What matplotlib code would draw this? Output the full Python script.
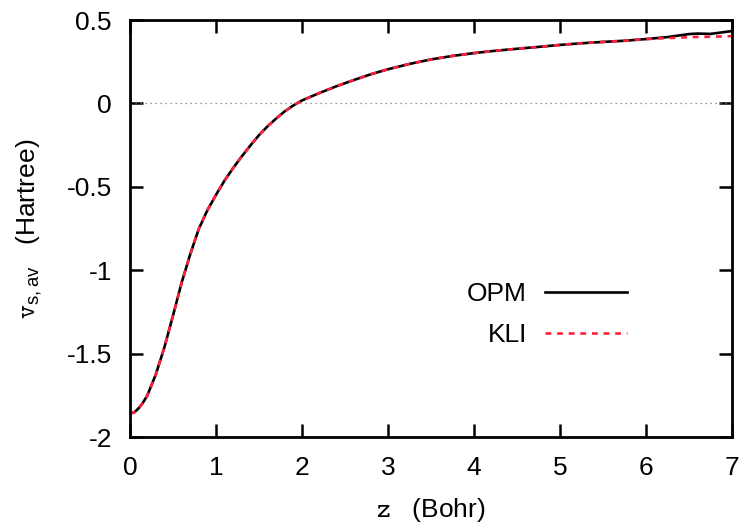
import matplotlib
matplotlib.use('Agg')
import matplotlib.pyplot as plt

# z grid (Bohr) and averaged potentials (Hartree)
z = [0.0, 0.05, 0.1, 0.15, 0.2, 0.3, 0.4, 0.5, 0.6, 0.7, 0.8, 0.9, 1.0,
     1.1, 1.2, 1.3, 1.4, 1.5, 1.6, 1.7, 1.8, 1.9, 2.0,
     2.2, 2.4, 2.6, 2.8, 3.0, 3.25, 3.5, 3.75, 4.0, 4.25, 4.5, 4.75,
     5.0, 5.25, 5.5, 5.75, 6.0, 6.25, 6.5, 6.6, 6.75, 7.0]

v_common = [-1.860, -1.852, -1.828, -1.795, -1.752, -1.625, -1.462, -1.272, -1.075, -0.905,
            -0.752, -0.640, -0.548, -0.462, -0.387, -0.317, -0.252, -0.190, -0.137, -0.090,
            -0.047, -0.012, 0.018,
            0.062, 0.103, 0.140, 0.175, 0.205, 0.237, 0.264, 0.285, 0.302, 0.316, 0.328, 0.339,
            0.351, 0.361, 0.369, 0.376, 0.386]

v_opm = v_common + [0.398, 0.416, 0.419, 0.417, 0.434]
v_kli = v_common + [0.392, 0.397, 0.399, 0.400, 0.404]

plt.rcParams['font.family'] = ['Liberation Sans', 'DejaVu Sans']
plt.rcParams['mathtext.fontset'] = 'custom'
plt.rcParams['mathtext.tt'] = 'cmtt10'
plt.rcParams['mathtext.sf'] = 'Liberation Sans'

fig = plt.figure(figsize=(7.45, 5.28), dpi=100)
ax = fig.add_axes([0.1745, 0.1723, 0.808, 0.7897])

ax.axhline(0, color='#777777', linestyle=(0, (1, 3)), linewidth=0.9)
ax.plot(z, v_opm, color='black', linewidth=1.9, label='OPM')
ax.plot(z, v_kli, color='#ff1f3d', linewidth=1.9, linestyle=(0, (2.2, 2.2)), label='KLI')

ax.set_xlim(0, 7)
ax.set_ylim(-2, 0.5)
ax.set_xticks(range(0, 8))
ax.set_yticks([-2, -1.5, -1, -0.5, 0, 0.5])
ax.set_yticklabels(['-2', '-1.5', '-1', '-0.5', '0', '0.5'])

ax.tick_params(direction='in', length=9.5, width=1.8, top=True, right=True,
               labelsize=19)
ax.tick_params(axis='x', pad=14)
ax.tick_params(axis='y', pad=13)
for s in ax.spines.values():
    s.set_linewidth(2.0)

ax.set_xlabel(r'$\mathtt{z}$   (Bohr)', fontsize=19, labelpad=11)
ax.set_ylabel(r'$\mathtt{v}_{\mathsf{s,av}}$   (Hartree)', fontsize=19, labelpad=16)

ax.legend(loc='center', bbox_to_anchor=(0.693, 0.293), frameon=False,
          markerfirst=False, fontsize=19, handlelength=3.1, handletextpad=0.7,
          labelspacing=0.65)

fig.savefig('out.png', dpi=100)
